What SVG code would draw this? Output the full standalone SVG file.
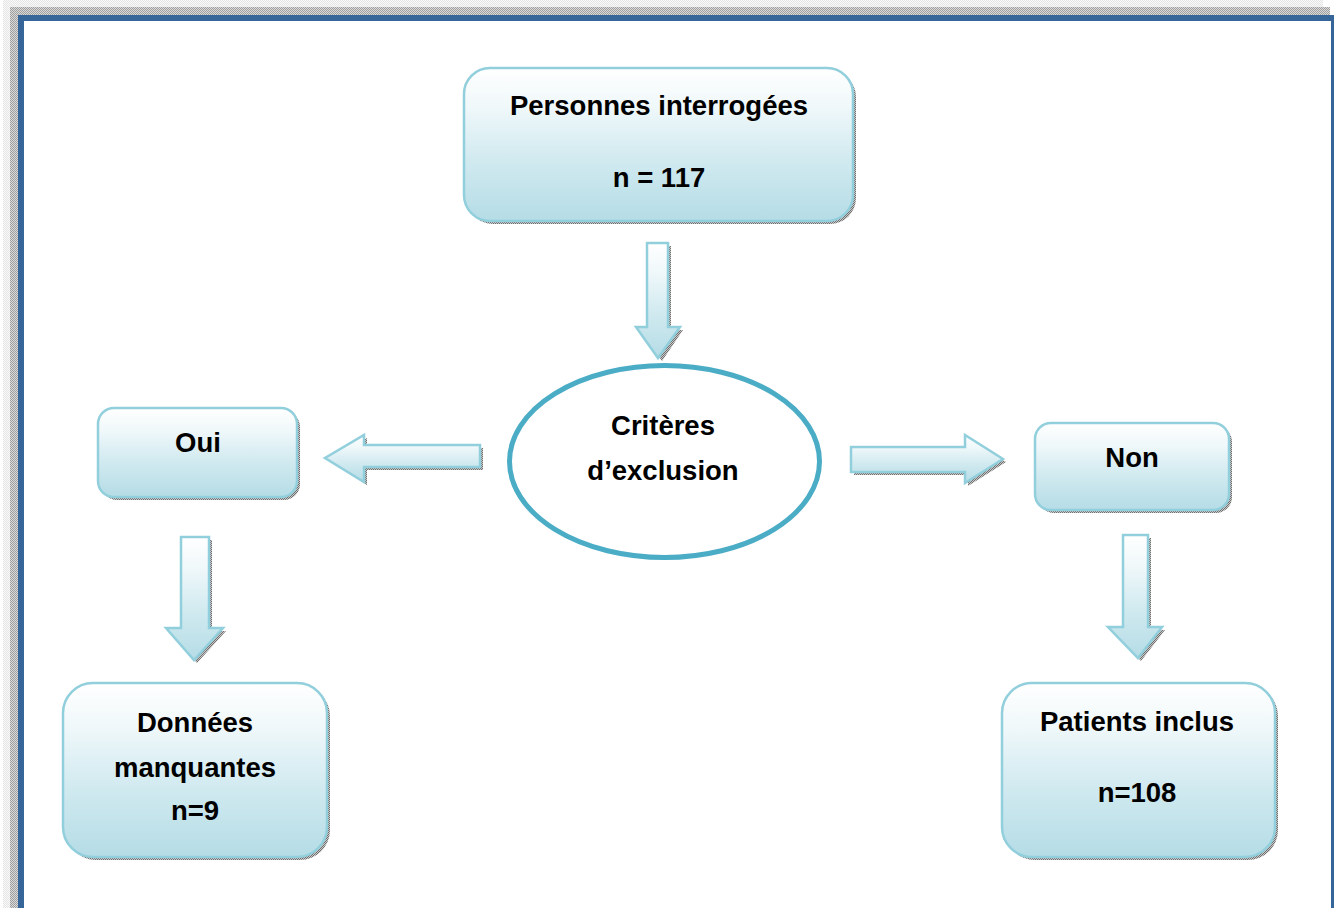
<svg xmlns="http://www.w3.org/2000/svg" width="1334" height="908" viewBox="0 0 1334 908">
<defs>
<linearGradient id="g" x1="0" y1="0" x2="0" y2="1">
<stop offset="0" stop-color="#ffffff"/>
<stop offset="0.25" stop-color="#f0f8fa"/>
<stop offset="0.6" stop-color="#d1eaf0"/>
<stop offset="1" stop-color="#b5dce6"/>
</linearGradient>
<pattern id="dots" width="2" height="2" patternUnits="userSpaceOnUse">
<rect width="2" height="2" fill="#c8c8c8"/>
<rect width="1" height="1" fill="#6f6f6f"/>
<rect x="1" y="1" width="1" height="1" fill="#6f6f6f"/>
</pattern>
<pattern id="light" width="2" height="2" patternUnits="userSpaceOnUse">
<rect width="2" height="2" fill="#fafafa"/>
<rect width="1" height="1" fill="#e4e4e4"/>
<rect x="1" y="1" width="1" height="1" fill="#e4e4e4"/>
</pattern>
<pattern id="mid" width="2" height="2" patternUnits="userSpaceOnUse">
<rect width="2" height="2" fill="#d9d9d9"/>
<rect width="1" height="1" fill="#a0a0a0"/>
<rect x="1" y="1" width="1" height="1" fill="#a0a0a0"/>
</pattern>
</defs>
<style>
.box{fill:url(#g);stroke:#92cfdc;stroke-width:2.5}
.sh{fill:url(#dots)}
.arr{fill:url(#g);stroke:#92cfdc;stroke-width:2.5;stroke-linejoin:miter}
.t{font-family:"Liberation Sans",Arial,sans-serif;font-weight:bold;font-size:27.5px;fill:#000;text-anchor:middle}
</style>
<rect width="1334" height="908" fill="#ffffff"/>
<g id="frame">
<rect x="3" y="0" width="1320" height="7" fill="url(#light)"/>
<rect x="3" y="0" width="7" height="908" fill="url(#light)"/>
<rect x="10" y="7" width="1320" height="8" fill="url(#mid)"/>
<rect x="10" y="7" width="8" height="901" fill="url(#mid)"/>
<rect x="18" y="15" width="1316" height="6" fill="#36659a"/>
<rect x="18" y="15" width="6" height="893" fill="#36659a"/>
<rect x="1331" y="15" width="3" height="893" fill="#36659a"/>
</g>
<g id="connectors">
<path class="sh" d="M650,246 H671 V330 H683 L662,361 L638,330 H650 Z"/>
<path class="arr" d="M647,243 H668 V327 H680 L658,358 L636,327 H647 Z"/>
<path class="sh" d="M483,448 V470 H367 V485 L328,460 L367,438 V448 Z"/>
<path class="arr" d="M480,445 V467 H364 V482 L325,458 L364,435 V445 Z"/>
<path class="sh" d="M854,450 H968 V438 L1006,462 L968,486 V475 H854 Z"/>
<path class="arr" d="M851,447 H965 V435 L1003,459 L965,483 V472 H851 Z"/>
<path class="sh" d="M184,540 H212 V631 H226 L197,663 L169,631 H184 Z"/>
<path class="arr" d="M181,537 H209 V628 H223 L194,660 L166,628 H181 Z"/>
<path class="sh" d="M1126,538 H1151 V630 H1165 L1141,661 L1111,630 H1126 Z"/>
<path class="arr" d="M1123,535 H1148 V627 H1162 L1138,658 L1108,627 H1123 Z"/>
</g>
<g id="node-personnes">
<rect class="sh" x="467" y="71" width="389" height="153" rx="26"/>
<rect class="box" x="464" y="68" width="389" height="153" rx="26"/>
<text class="t" x="659" y="115">Personnes interrogées</text>
<text class="t" x="659" y="187">n = 117</text>
</g>
<g id="node-criteres">
<ellipse cx="664.5" cy="461.5" rx="155" ry="96" fill="#ffffff" stroke="#4bacc6" stroke-width="5"/>
<text class="t" x="663" y="435">Critères</text>
<text class="t" x="663" y="480">d’exclusion</text>
</g>
<g id="node-oui">
<rect class="sh" x="101" y="411" width="199" height="89" rx="16"/>
<rect class="box" x="98" y="408" width="199" height="89" rx="16"/>
<text class="t" x="198" y="452">Oui</text>
</g>
<g id="node-non">
<rect class="sh" x="1038" y="426" width="194" height="87" rx="16"/>
<rect class="box" x="1035" y="423" width="194" height="87" rx="16"/>
<text class="t" x="1132" y="467">Non</text>
</g>
<g id="node-donnees">
<rect class="sh" x="66" y="686" width="264" height="174" rx="30"/>
<rect class="box" x="63" y="683" width="264" height="174" rx="30"/>
<text class="t" x="195" y="732">Données</text>
<text class="t" x="195" y="777">manquantes</text>
<text class="t" x="195" y="820">n=9</text>
</g>
<g id="node-patients">
<rect class="sh" x="1005" y="686" width="273" height="174" rx="30"/>
<rect class="box" x="1002" y="683" width="273" height="174" rx="30"/>
<text class="t" x="1137" y="731">Patients inclus</text>
<text class="t" x="1137" y="802">n=108</text>
</g>
</svg>
